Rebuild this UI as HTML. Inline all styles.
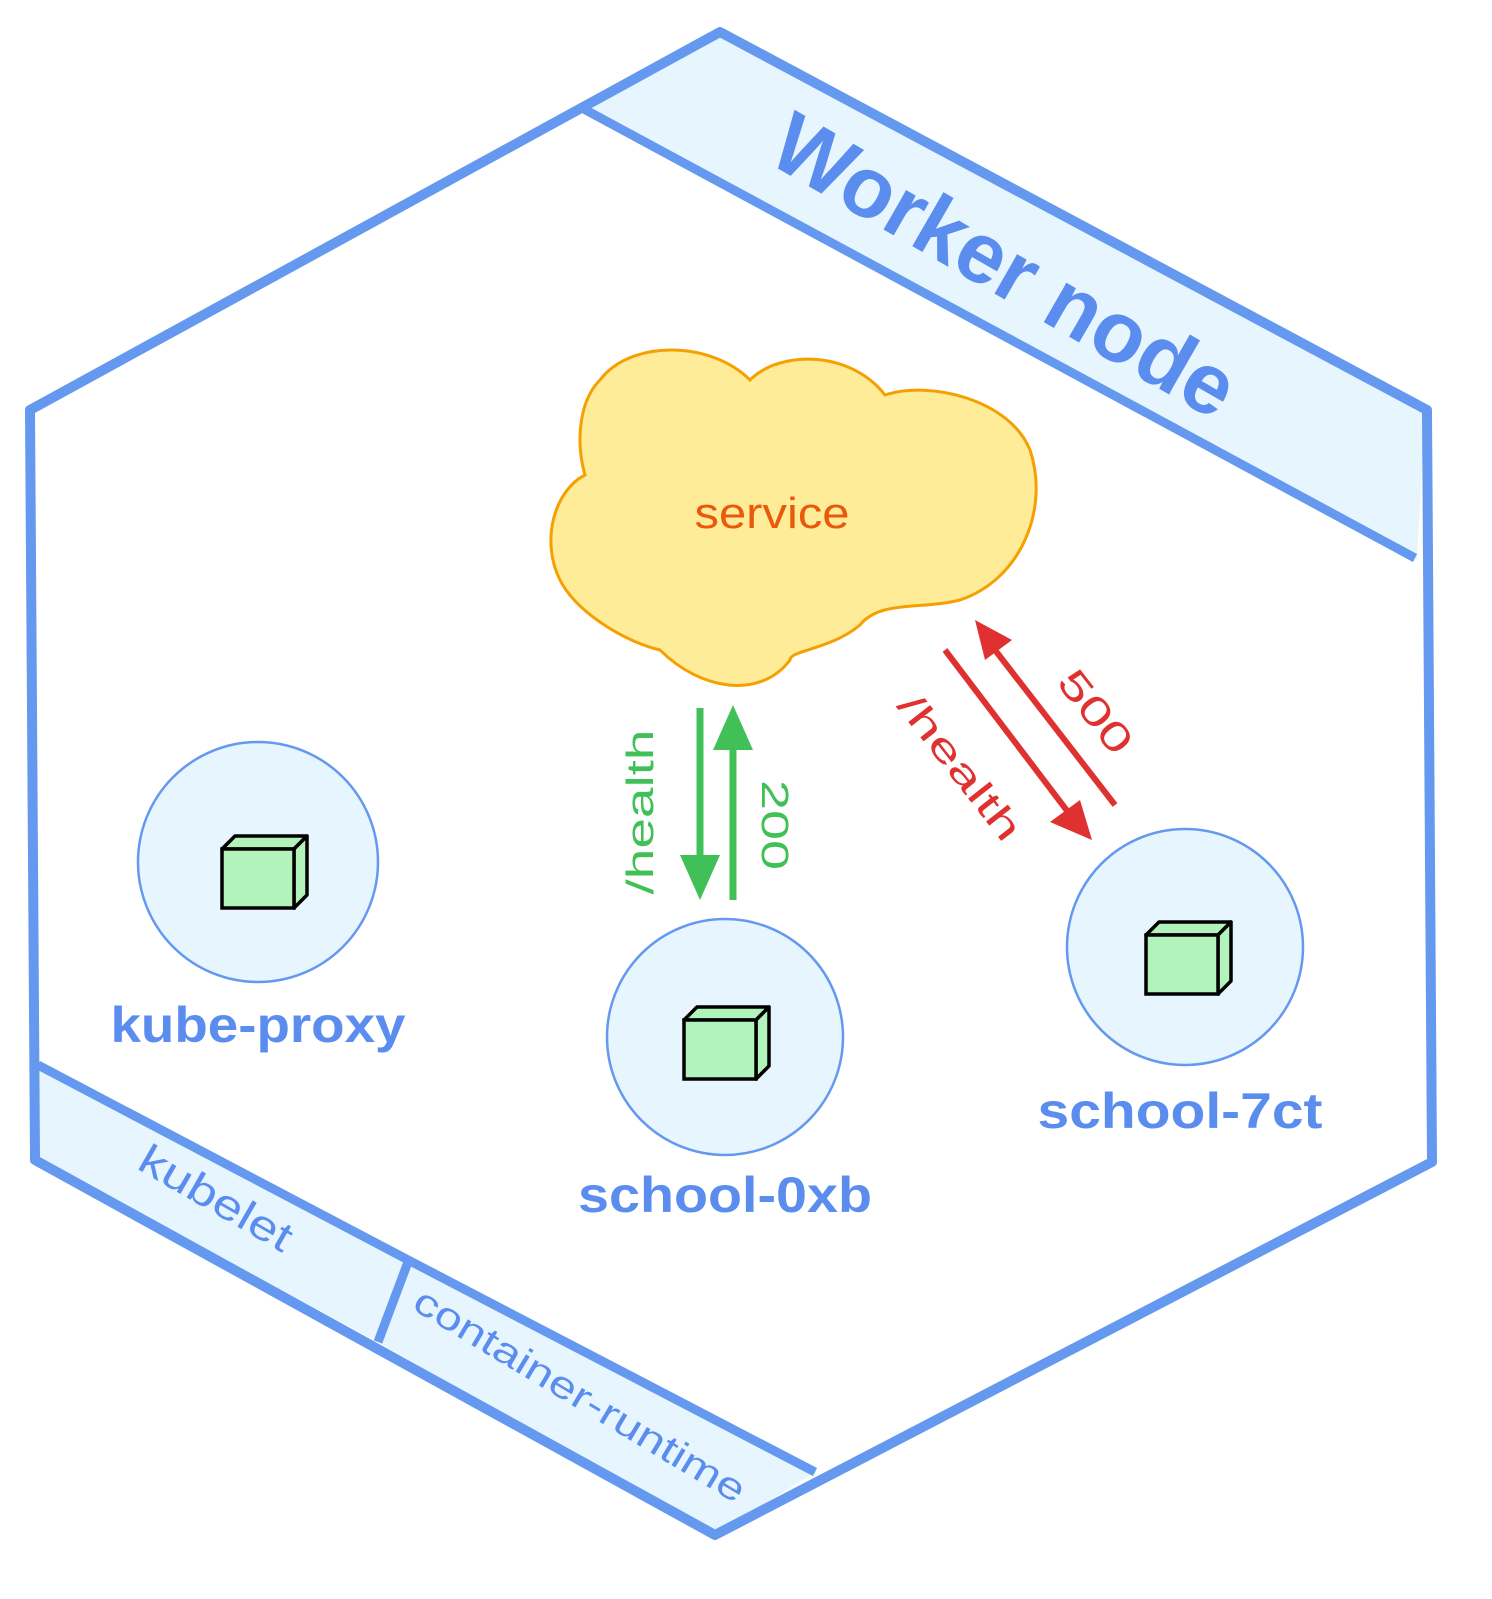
<!DOCTYPE html>
<html><head><meta charset="utf-8"><style>
html,body{margin:0;padding:0;background:#fff;}
svg{display:block;}
text{font-family:"Liberation Sans",sans-serif;}
</style></head><body>
<svg width="1492" height="1599" viewBox="0 0 1492 1599" xmlns="http://www.w3.org/2000/svg">
<defs>
<g id="cube">
  <polygon points="-38,-25 -25,-38 47,-38 34,-25" fill="#b2f2bb" stroke="#000" stroke-width="3.5" stroke-linejoin="round"/>
  <polygon points="34,-25 47,-38 47,21 34,34" fill="#b2f2bb" stroke="#000" stroke-width="3.5" stroke-linejoin="round"/>
  <rect x="-38" y="-25" width="72" height="59" fill="#b2f2bb" stroke="#000" stroke-width="3.5"/>
</g>
</defs>
<polygon points="580,108 720,32 1425,410 1417,560" fill="#e7f5ff"/>
<polygon points="38,1065 410,1262 378,1342 36,1158" fill="#e7f5ff"/>
<polygon points="410,1262 815,1472 715,1535 378,1342" fill="#e7f5ff"/>
<polygon points="720,32 1427,410 1432,1162 715,1535 35,1160 30,410" fill="none" stroke="#6598ef" stroke-width="10" stroke-linejoin="round"/>
<line x1="582" y1="108" x2="1415" y2="558" stroke="#6598ef" stroke-width="9"/>
<line x1="38" y1="1065" x2="412" y2="1262" stroke="#6598ef" stroke-width="9"/>
<line x1="412" y1="1262" x2="815" y2="1472" stroke="#6598ef" stroke-width="9"/>
<line x1="408" y1="1262" x2="378" y2="1342" stroke="#6598ef" stroke-width="9"/>
<text x="1005" y="295" font-size="86" font-weight="bold" fill="#5b8def" text-anchor="middle" textLength="520" lengthAdjust="spacingAndGlyphs" transform="rotate(30 1005 265)">Worker node</text>
<text x="215" y="1212" font-size="42" fill="#5b8def" text-anchor="middle" textLength="170" lengthAdjust="spacingAndGlyphs" transform="rotate(30 215 1200)">kubelet</text>
<text x="580" y="1408" font-size="38" fill="#5b8def" text-anchor="middle" textLength="380" lengthAdjust="spacingAndGlyphs" transform="rotate(31 580 1395)">container-runtime</text>
<path d="M600,380 C630,340 710,340 750,380 C780,350 850,350 885,395 C930,380 1010,400 1030,450 C1050,510 1020,580 960,600 C920,610 880,600 860,625 C830,650 790,650 790,660 C760,700 700,690 660,650 C620,640 575,610 560,580 C540,540 555,490 585,475 C575,440 580,400 600,380 Z" fill="#ffec99" stroke="#f59f00" stroke-width="3"/>
<text x="772" y="528" font-size="44" fill="#e8590c" text-anchor="middle" textLength="155" lengthAdjust="spacingAndGlyphs">service</text>
<circle cx="258" cy="862" r="120" fill="#e7f5ff" stroke="#6598ef" stroke-width="2.5"/>
<circle cx="725" cy="1037" r="118" fill="#e7f5ff" stroke="#6598ef" stroke-width="2.5"/>
<circle cx="1185" cy="947" r="118" fill="#e7f5ff" stroke="#6598ef" stroke-width="2.5"/>
<use href="#cube" x="260" y="874"/>
<use href="#cube" x="722" y="1045"/>
<use href="#cube" x="1184" y="960"/>
<text x="258" y="1042" font-size="50" font-weight="bold" fill="#5b8def" text-anchor="middle" textLength="295" lengthAdjust="spacingAndGlyphs">kube-proxy</text>
<text x="725" y="1212" font-size="50" font-weight="bold" fill="#5b8def" text-anchor="middle" textLength="294" lengthAdjust="spacingAndGlyphs">school-0xb</text>
<text x="1180" y="1128" font-size="50" font-weight="bold" fill="#5b8def" text-anchor="middle" textLength="285" lengthAdjust="spacingAndGlyphs">school-7ct</text>
<line x1="700" y1="708" x2="700" y2="860" stroke="#40c057" stroke-width="7"/>
<polygon points="680,855 720,855 700,900" fill="#40c057"/>
<line x1="733" y1="900" x2="733" y2="745" stroke="#40c057" stroke-width="7"/>
<polygon points="713,750 753,750 733,705" fill="#40c057"/>
<text x="640" y="825" font-size="38" fill="#40c057" text-anchor="middle" textLength="165" lengthAdjust="spacingAndGlyphs" transform="rotate(-90 640 812)">/health</text>
<text x="775" y="838" font-size="38" fill="#40c057" text-anchor="middle" textLength="90" lengthAdjust="spacingAndGlyphs" transform="rotate(90 775 825)">200</text>
<line x1="945" y1="650" x2="1068" y2="812" stroke="#e03131" stroke-width="6"/>
<polygon points="1050,822 1080,800 1092,840" fill="#e03131"/>
<line x1="1115" y1="805" x2="995" y2="650" stroke="#e03131" stroke-width="6"/>
<polygon points="975,620 1012,640 985,660" fill="#e03131"/>
<text x="960" y="780" font-size="38" fill="#e03131" text-anchor="middle" textLength="175" lengthAdjust="spacingAndGlyphs" transform="rotate(52 960 767)">/health</text>
<text x="1095" y="725" font-size="40" fill="#e03131" text-anchor="middle" textLength="95" lengthAdjust="spacingAndGlyphs" transform="rotate(52 1095 712)">500</text>
</svg>
</body></html>
